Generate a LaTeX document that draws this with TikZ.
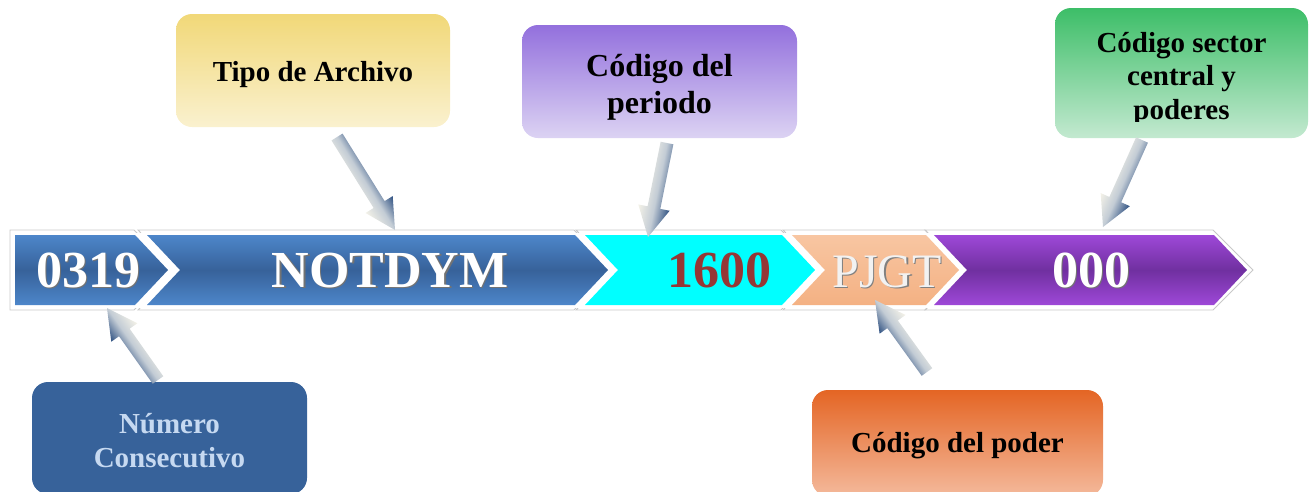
\documentclass[tikz,border=0pt]{standalone}
\usepackage{fontspec}
\setmainfont{Liberation Serif}
\usetikzlibrary{calc}
\definecolor{segblue}{HTML}{37629A}
\definecolor{segbluel}{HTML}{4D86CA}
\definecolor{segpurple}{HTML}{7030A0}
\definecolor{segpurplel}{HTML}{9E48D8}
\definecolor{segpeach}{HTML}{F4B183}
\definecolor{segpeachl}{HTML}{F8C6A2}
\definecolor{segcyan}{HTML}{00FFFF}
\definecolor{numred}{HTML}{953735}
\definecolor{outl}{HTML}{C8C8C8}
\definecolor{arrdark}{HTML}{2F5182}
\definecolor{arrmid}{HTML}{C3CCD5}
\definecolor{arrlight}{HTML}{F4F2E8}
\definecolor{tipotop}{HTML}{F1D878}
\definecolor{tipobot}{HTML}{FAF1CF}
\definecolor{pertop}{HTML}{9370DD}
\definecolor{perbot}{HTML}{DCD3F3}
\definecolor{sectop}{HTML}{3DBE68}
\definecolor{secbot}{HTML}{C3E9D0}
\definecolor{numbox}{HTML}{37629A}
\definecolor{numtext}{HTML}{C6D9F1}
\definecolor{podtop}{HTML}{E46524}
\definecolor{podbot}{HTML}{F4B99B}
\tikzset{
  segout/.style={draw=outl, line width=0.9pt},
  bluechev/.style={top color=segbluel, bottom color=segbluel, middle color=segblue},
  purplechev/.style={top color=segpurplel, bottom color=segpurplel, middle color=segpurple},
  peachchev/.style={top color=segpeachl, bottom color=segpeach},
  segtxt/.style={font=\bfseries\fontsize{52}{60}\selectfont, anchor=base, inner sep=0pt},
  segshadow/.style={segtxt, text=black!55},
  cbox/.style={rounded corners=16pt, inner sep=0pt, draw=none},
  lbl/.style={font=\bfseries\fontsize{29}{35}\selectfont, align=center, inner sep=0pt},
  blockarrow/.style={top color=arrdark, bottom color=arrlight, middle color=arrmid}
}
\makeatletter
\newcommand\gradarrow[2]{%
  \pgfmathanglebetweenpoints{\pgfpointanchor{#1}{center}}{\pgfpointanchor{#2}{center}}%
  \let\arrang\pgfmathresult
  \pgfpointdiff{\pgfpointanchor{#1}{center}}{\pgfpointanchor{#2}{center}}%
  \pgfgetlastxy{\arrdx}{\arrdy}%
  \pgfmathveclen{\arrdx}{\arrdy}%
  \let\arrlen\pgfmathresult
  \begin{scope}[transform canvas={shift={(#2)},rotate=\arrang}]
    \shade[blockarrow] (0pt,0pt) -- (-30pt,16pt) -- (-30pt,6.5pt) -- (-\arrlen pt,6.5pt)
      -- (-\arrlen pt,-6.5pt) -- (-30pt,-6.5pt) -- (-30pt,-16pt) -- cycle;
  \end{scope}}
\makeatother
\begin{document}
\begin{tikzpicture}[x=1pt,y=-1pt]
\useasboundingbox (0,0) rectangle (1310,491);
\clip (0,0) rectangle (1310,491);
% outlines of the chevrons
\draw[segout] (10,230) -- (134,230) -- (173,270) -- (134,310) -- (10,310) -- cycle;
\draw[segout] (138,230) -- (574,230) -- (613,270) -- (574,310) -- (138,310) -- (176,270) -- cycle;
\draw[segout] (576,230) -- (781,230) -- (820,270) -- (781,310) -- (576,310) -- (614,270) -- cycle;
\draw[segout] (783,230) -- (925,230) -- (964,270) -- (925,310) -- (783,310) -- (821,270) -- cycle;
\draw[segout] (925,230) -- (1213,230) -- (1253,270) -- (1213,310) -- (925,310) -- (963,270) -- cycle;
\fill[white] (12,232.5) rectangle (1210,307.5);
% chevrons
\shade[bluechev] (15,235) -- (135,235) -- (168,270) -- (135,305) -- (15,305) -- cycle;
\shade[bluechev] (147,235) -- (575,235) -- (608,270) -- (575,305) -- (147,305) -- (180,270) -- cycle;
\fill[segcyan] (585,235) -- (782,235) -- (815,270) -- (782,305) -- (585,305) -- (618,270) -- cycle;
\shade[peachchev] (792,235) -- (926,235) -- (959,270) -- (926,305) -- (792,305) -- (825,270) -- cycle;
\shade[purplechev] (934,235) -- (1214,235) -- (1247,270) -- (1214,305) -- (934,305) -- (967,270) -- cycle;
% segment texts
\node[segshadow] (t1s) at (89.5,288.5) {0319};
\node[segtxt, text=white] (t1) at (88,287) {0319};
\node[segshadow] (t2s) at (391.5,288.5) {NOTDYM};
\node[segtxt, text=white] (t2) at (390,287) {NOTDYM};
\node[segtxt, text=numred] (t3) at (719,287) {1600};
\node[segtxt, font=\fontsize{48}{56}\selectfont, text=black!50] (t4s) at (888.5,288.5) {PJGT};
\node[segtxt, font=\fontsize{48}{56}\selectfont, text=white!95!black] (t4) at (887,287) {PJGT};
\node[segshadow] (t5s) at (1092.5,288.5) {000};
\node[segtxt, text=white] (t5) at (1091,287) {000};
% callout boxes
\node[cbox, minimum width=274pt, minimum height=113pt, top color=tipotop, bottom color=tipobot] (b1) at (313,70.5) {};
\node[lbl] (l1) at (313,75) {Tipo de Archivo};
\node[cbox, minimum width=275pt, minimum height=113pt, top color=pertop, bottom color=perbot] (b2) at (659.5,81.5) {};
\node[lbl, font=\bfseries\fontsize{32}{37}\selectfont] (l2) at (659.5,87) {Código del\\periodo};
\node[cbox, minimum width=253pt, minimum height=130pt, top color=sectop, bottom color=secbot] (b3) at (1181.5,73) {};
\begin{scope}
\clip (1055,0) rectangle (1308,121);
\node[lbl, font=\bfseries\fontsize{29}{33.5}\selectfont] (l3) at (1181.5,79) {Código sector\\central y\\poderes};
\end{scope}
\node[cbox, minimum width=275pt, minimum height=112pt, fill=numbox] (b4) at (169.5,438) {};
\node[lbl, text=numtext, font=\bfseries\fontsize{29}{34}\selectfont] (l4) at (169.5,441) {Número\\Consecutivo};
\node[cbox, minimum width=291pt, minimum height=106pt, top color=podtop, bottom color=podbot] (b5) at (957.5,443) {};
\node[lbl] (l5) at (957.5,446) {Código del poder};
% arrows
\coordinate (a1s) at (337,137); \coordinate (a1t) at (395,230);
\coordinate (a2s) at (667,143); \coordinate (a2t) at (648,237);
\coordinate (a3s) at (1142,140); \coordinate (a3t) at (1103,227);
\coordinate (a4s) at (158,380); \coordinate (a4t) at (107,308);
\coordinate (a5s) at (927,372); \coordinate (a5t) at (875,300);
\gradarrow{a1s}{a1t}
\gradarrow{a2s}{a2t}
\gradarrow{a3s}{a3t}
\gradarrow{a4s}{a4t}
\gradarrow{a5s}{a5t}
\end{tikzpicture}
\end{document}
